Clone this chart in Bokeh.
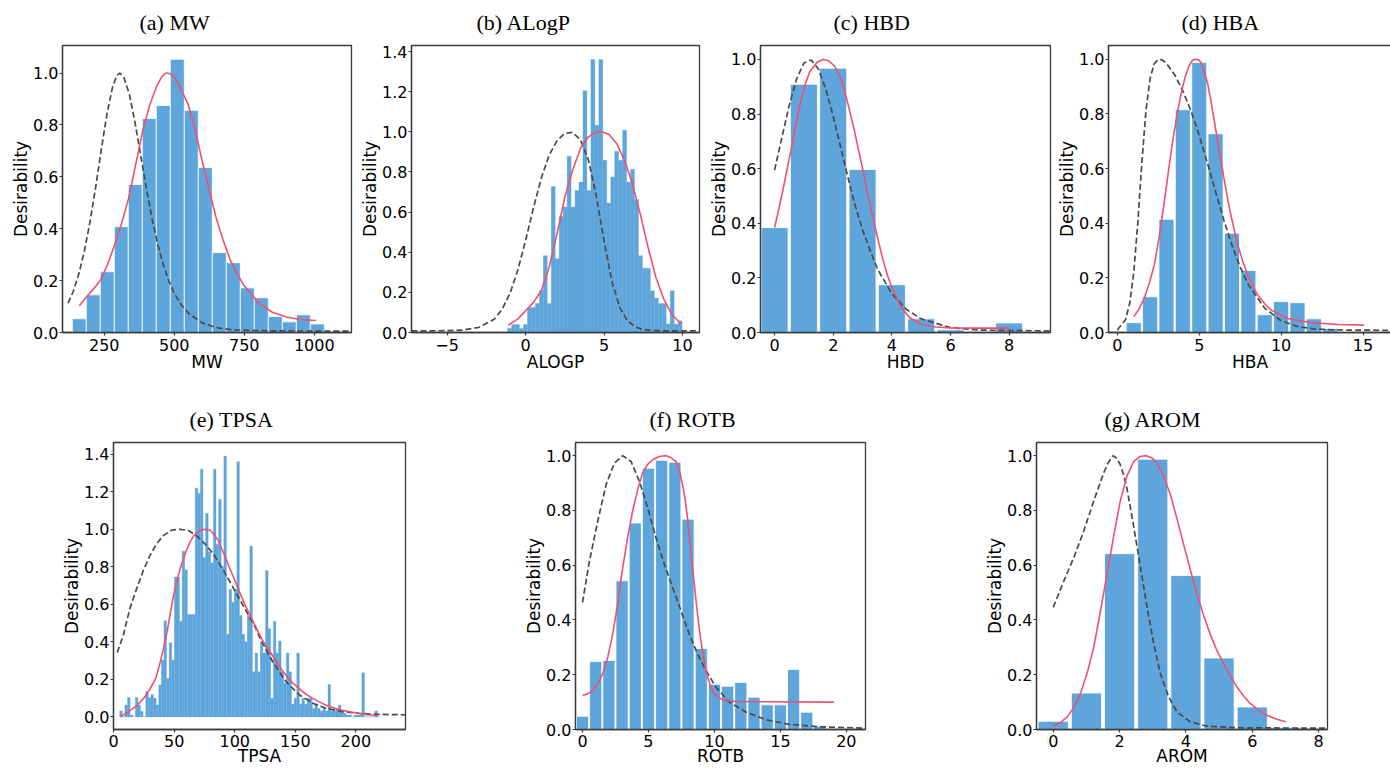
import numpy as np
from bokeh.plotting import figure
from bokeh.layouts import column, row
from bokeh.models import Range1d, FixedTicker, PrintfTickFormatter, Spacer
from bokeh.embed import file_html
from bokeh.resources import INLINE

BAR = "#5DA5DA"
RED = "#F0506E"
DASH = "#4A4A4A"
SPINE = "#3A3A3A"

# ---------------- (a) MW ----------------
mw_bin_start, mw_bin_width = 136, 50
mw_heights = [0.053, 0.145, 0.234, 0.408, 0.570, 0.825, 0.875, 1.053, 0.856, 0.636,
              0.308, 0.269, 0.172, 0.134, 0.062, 0.041, 0.068, 0.033]
mw_red_x = [161, 187, 212, 237, 262, 287, 312, 337, 362, 387, 412, 437, 455, 470, 485, 500, 520, 550,
            575, 600, 625, 650, 675, 700, 725, 750, 800, 850, 900, 950, 1006]
mw_red_y = [0.103, 0.138, 0.168, 0.202, 0.262, 0.337, 0.42, 0.517, 0.645, 0.775, 0.875, 0.948, 0.985,
            1.0, 0.997, 0.985, 0.948, 0.878, 0.78, 0.66, 0.55, 0.44, 0.355, 0.28, 0.225, 0.18, 0.115,
            0.078, 0.06, 0.05, 0.046]
mw_dash_x = [121, 140, 160, 180, 200, 220, 240, 260, 280, 295, 305, 320, 340, 360, 380, 400, 420, 440,
             460, 480, 500, 525, 550, 600, 650, 700, 800, 900, 1133]
mw_dash_y = [0.113, 0.160, 0.228, 0.318, 0.431, 0.564, 0.708, 0.844, 0.947, 0.990, 1.0, 0.984, 0.917,
             0.809, 0.684, 0.559, 0.443, 0.345, 0.265, 0.201, 0.151, 0.107, 0.075, 0.037, 0.019, 0.011,
             0.007, 0.006, 0.005]

# ---------------- (b) ALogP ----------------
alogp_bin_start, alogp_bin_width = -1.146, 0.2527
alogp_heights = [0.02, 0.04, 0.04, 0.02, 0.04, 0.125, 0.125, 0.145, 0.21, 0.383,
                 0.145, 0.728, 0.367, 0.578, 0.625, 0.878, 0.625, 0.708, 0.75, 1.205,
                 0.708, 1.36, 1.033, 1.36, 0.858, 0.645, 0.775, 0.903, 0.858, 1.008,
                 0.75, 0.813, 0.663, 0.383, 0.32, 0.32, 0.208, 0.172, 0.145, 0.145,
                 0.042, 0.208, 0.042, 0.058]
alogp_red_x = [-1.1, -0.5, 0, 0.5, 1.0, 1.5, 2.0, 2.5, 3.0, 3.5, 4.0, 4.4, 4.85, 5.3, 5.8, 6.3, 6.8,
               7.3, 7.8, 8.3, 8.8, 9.3, 9.9]
alogp_red_y = [0.037, 0.067, 0.108, 0.15, 0.208, 0.325, 0.49, 0.675, 0.81, 0.917, 0.975, 0.995, 1.0,
               0.988, 0.942, 0.858, 0.742, 0.592, 0.425, 0.275, 0.167, 0.092, 0.042]
alogp_dash_x = [-7.27, -5, -4, -3, -2, -1.5, -1, -0.5, 0, 0.5, 1, 1.5, 2, 2.5, 3, 3.5, 4, 4.5, 5, 5.5,
                6, 6.5, 7, 7.5, 8, 9, 11.08]
alogp_dash_y = [0.008, 0.009, 0.012, 0.025, 0.066, 0.115, 0.194, 0.310, 0.459, 0.621, 0.769, 0.884,
                0.955, 0.993, 0.997, 0.959, 0.860, 0.682, 0.456, 0.254, 0.124, 0.058, 0.027, 0.015,
                0.010, 0.008, 0.008]

# ---------------- (c) HBD ----------------
hbd_vals = [0, 1, 2, 3, 4, 5, 6, 7, 8]
hbd_heights = [0.384, 0.909, 0.968, 0.597, 0.175, 0.050, 0.010, 0.005, 0.035]
hbd_red_x = [0, 0.15, 0.3, 0.45, 0.6, 0.75, 0.9, 1.05, 1.2, 1.45, 1.65, 1.85, 2.05, 2.2, 2.35, 2.52,
             2.7, 2.87, 3.05, 3.22, 3.4, 3.55, 3.7, 3.85, 4.0, 4.3, 4.6, 5.0, 5.5, 6.0, 7.0, 8.0]
hbd_red_y = [0.384, 0.455, 0.53, 0.61, 0.69, 0.775, 0.85, 0.91, 0.955, 0.99, 1.0, 0.995, 0.975, 0.945,
             0.90, 0.83, 0.75, 0.665, 0.575, 0.485, 0.40, 0.33, 0.265, 0.21, 0.165, 0.095, 0.055,
             0.03, 0.02, 0.017, 0.016, 0.016]
hbd_dash_x = [0, 0.25, 0.5, 0.75, 1.0, 1.25, 1.5, 1.75, 2.0, 2.25, 2.5, 2.75, 3.0, 3.5, 4.0, 4.5, 5.0,
              6.0, 7.0, 8.0, 9.41]
hbd_dash_y = [0.595, 0.714, 0.832, 0.928, 0.987, 0.998, 0.964, 0.890, 0.791, 0.68, 0.569, 0.465, 0.375,
              0.234, 0.142, 0.084, 0.05, 0.018, 0.009, 0.007, 0.006]

# ---------------- (d) HBA ----------------
hba_vals = [1, 2, 3, 4, 5, 6, 7, 8, 9, 10, 11, 12, 13, 14]
hba_heights = [0.036, 0.131, 0.414, 0.815, 0.988, 0.727, 0.363, 0.227, 0.065, 0.113, 0.109, 0.050,
               0.015, 0.004]
hba_red_x = [1.0, 1.32, 1.64, 1.95, 2.26, 2.57, 2.87, 3.12, 3.38, 3.64, 3.89, 4.14, 4.39, 4.58, 4.76,
             4.93, 5.1, 5.3, 5.52, 5.72, 5.92, 6.12, 6.33, 6.58, 6.84, 7.1, 7.35, 7.65, 7.96, 8.27,
             8.57, 9.0, 9.39, 10.4, 11.83, 13.46, 15.05]
hba_red_y = [0.058, 0.085, 0.125, 0.18, 0.248, 0.355, 0.48, 0.59, 0.70, 0.795, 0.873, 0.935, 0.977,
             0.995, 1.0, 0.998, 0.989, 0.955, 0.909, 0.845, 0.775, 0.70, 0.627, 0.54, 0.456, 0.385,
             0.321, 0.262, 0.211, 0.17, 0.137, 0.105, 0.082, 0.051, 0.036, 0.029, 0.027]
hba_dash_x = [0, 0.5, 0.75, 1.0, 1.25, 1.5, 1.75, 2.0, 2.25, 2.5, 2.75, 3.0, 3.5, 4.0, 4.5, 5.0, 5.5,
              6.0, 6.5, 7.0, 7.5, 8.0, 9.0, 10.0, 11.0, 12.0, 13.0, 14.0, 16.74]
hba_dash_y = [0.009, 0.047, 0.105, 0.218, 0.402, 0.624, 0.814, 0.929, 0.983, 0.999, 0.997, 0.984,
              0.943, 0.884, 0.810, 0.721, 0.620, 0.515, 0.412, 0.319, 0.239, 0.175, 0.089, 0.043,
              0.022, 0.013, 0.010, 0.009, 0.008]

# ---------------- (e) TPSA ----------------
tpsa_bin_start, tpsa_bin_width = 5.0, 2.15
tpsa_heights = [0.032, 0.0, 0.064, 0.103, 0.01, 0.0, 0.103, 0.064, 0.03, 0.0,
                0.135, 0.103, 0.12, 0.10, 0.064, 0.17, 0.303, 0.512, 0.205, 0.395,
                0.303, 0.745, 0.745, 0.51, 0.883, 0.784, 0.545, 0.545, 0.545, 1.22,
                1.19, 1.32, 0.85, 1.085, 0.88, 0.82, 1.32, 0.92, 1.16, 0.80,
                1.39, 0.44, 0.68, 0.61, 0.68, 1.36, 0.54, 0.44, 0.40, 0.54,
                0.91, 0.24, 0.34, 0.24, 0.40, 0.34, 0.78, 0.47, 0.10, 0.51,
                0.34, 0.405, 0.24, 0.18, 0.34, 0.24, 0.067, 0.10, 0.34, 0.067,
                0.10, 0.067, 0.10, 0.10, 0.045, 0.067, 0.045, 0.032, 0.045, 0.032,
                0.173, 0.032, 0.032, 0.045, 0.064, 0.032, 0.02, 0.01, 0.01, 0.0,
                0.01, 0.01, 0.01, 0.235, 0.0, 0.0, 0.0, 0.0, 0.032, 0.0]
tpsa_red_x = [5.5, 10, 15, 20, 25, 30, 35, 38, 41, 44, 46.5, 49, 52, 55, 57.5, 60, 63, 66, 70, 73.5,
              77, 80, 82, 86, 89, 92.5, 96, 100, 104, 108, 112, 116, 120, 125, 131, 136, 142, 147,
              153, 158, 164, 170, 175, 182, 189, 196, 203, 210, 218]
tpsa_red_y = [0.0, 0.018, 0.04, 0.066, 0.10, 0.148, 0.21, 0.28, 0.36, 0.45, 0.54, 0.63, 0.72, 0.79,
              0.84, 0.885, 0.93, 0.963, 0.988, 0.998, 1.0, 0.993, 0.978, 0.945, 0.9, 0.848, 0.79, 0.728,
              0.665, 0.605, 0.55, 0.497, 0.445, 0.385, 0.33, 0.275, 0.225, 0.186, 0.152, 0.125, 0.10,
              0.08, 0.064, 0.048, 0.035, 0.026, 0.018, 0.012, 0.006]
tpsa_dash_x = [3.0, 8.0, 13.4, 19, 24.5, 30, 35.5, 41, 47.9, 54.8, 61.7, 68.5, 75.4, 82.3, 89.2, 96.1,
               103, 109.9, 116.8, 120.5, 131.3, 142.3, 153.4, 164.4, 175.4, 189.2, 203, 216.7, 241]
tpsa_dash_y = [0.343, 0.435, 0.577, 0.683, 0.78, 0.86, 0.922, 0.966, 0.995, 1.0, 0.993, 0.966, 0.922,
               0.869, 0.798, 0.719, 0.639, 0.559, 0.48, 0.425, 0.294, 0.188, 0.117, 0.073, 0.046,
               0.028, 0.019, 0.014, 0.011]

# ---------------- (f) ROTB ----------------
rotb_vals = list(range(0, 19))
rotb_heights = [0.048, 0.248, 0.252, 0.543, 0.754, 0.954, 0.983, 0.976, 0.768, 0.296, 0.165, 0.158,
                0.172, 0.118, 0.090, 0.090, 0.219, 0.063, 0.012]
rotb_red_x = [0, 0.39, 0.78, 1.16, 1.54, 1.92, 2.29, 2.67, 3.05, 3.42, 3.8, 4.18, 4.56, 4.94, 5.32, 5.8,
              6.33, 6.7, 7.08, 7.35, 7.58, 7.78, 7.96, 8.22, 8.47, 8.72, 8.97, 9.22, 9.48, 9.73, 9.98,
              10.3, 10.61, 11.2, 11.87, 19.06]
rotb_red_y = [0.125, 0.13, 0.143, 0.168, 0.204, 0.265, 0.349, 0.46, 0.592, 0.70, 0.798, 0.875, 0.937,
              0.968, 0.985, 0.997, 1.0, 0.993, 0.979, 0.945, 0.895, 0.84, 0.773, 0.65, 0.531, 0.42,
              0.325, 0.25, 0.192, 0.155, 0.131, 0.117, 0.109, 0.104, 0.102, 0.10]
rotb_dash_x = [0, 0.53, 1.16, 1.79, 2.42, 3.05, 3.68, 4.31, 4.94, 5.57, 6.2, 6.83, 7.46, 8.09, 8.72,
               9.35, 10.11, 11.12, 12.38, 13.89, 15.66, 17.93, 21.45]
rotb_dash_y = [0.464, 0.616, 0.761, 0.895, 0.973, 1.0, 0.979, 0.907, 0.81, 0.70, 0.604, 0.519, 0.434,
               0.349, 0.276, 0.216, 0.155, 0.10, 0.064, 0.036, 0.019, 0.01, 0.005]

# ---------------- (g) AROM ----------------
arom_vals = [0, 1, 2, 3, 4, 5, 6, 7]
arom_heights = [0.030, 0.133, 0.642, 0.987, 0.562, 0.261, 0.082, 0.007]
arom_red_x = [0, 0.21, 0.42, 0.62, 0.82, 1.02, 1.22, 1.42, 1.62, 1.82, 2.02, 2.22, 2.43, 2.62, 2.8,
              2.97, 3.13, 3.33, 3.53, 3.73, 3.93, 4.13, 4.33, 4.53, 4.73, 4.93, 5.14, 5.34, 5.54, 5.74,
              5.94, 6.19, 6.44, 6.72, 7.01]
arom_red_y = [0.013, 0.025, 0.046, 0.08, 0.131, 0.205, 0.30, 0.43, 0.567, 0.705, 0.834, 0.925, 0.979,
              0.997, 1.0, 0.992, 0.973, 0.925, 0.858, 0.77, 0.676, 0.585, 0.495, 0.418, 0.349, 0.29,
              0.24, 0.195, 0.155, 0.122, 0.095, 0.07, 0.052, 0.038, 0.028]
arom_dash_x = [0, 0.32, 0.62, 0.92, 1.22, 1.52, 1.66, 1.8, 1.92, 2.02, 2.12, 2.22, 2.43, 2.63, 2.83,
               3.03, 3.23, 3.48, 3.73, 4.13, 4.63, 5.64, 8.27]
arom_dash_y = [0.446, 0.543, 0.628, 0.725, 0.834, 0.937, 0.975, 1.0, 0.99, 0.967, 0.93, 0.882, 0.737,
               0.592, 0.446, 0.313, 0.204, 0.119, 0.064, 0.028, 0.012, 0.006, 0.005]

Y_TICKS_10 = [0.0, 0.2, 0.4, 0.6, 0.8, 1.0]
Y_TICKS_14 = [0.0, 0.2, 0.4, 0.6, 0.8, 1.0, 1.2, 1.4]


def make_fig(title, title_offset, xlabel, xr, yr, fw, fh, bl, br, bb, xticks, yticks,
             overrides=None, xlab_standoff=-2, xtick_standoff=3):
    p = figure(frame_width=fw, frame_height=fh, x_range=Range1d(*xr), y_range=Range1d(*yr),
               output_backend="svg", toolbar_location=None,
               min_border_left=bl, min_border_right=br, min_border_top=0, min_border_bottom=bb)
    p.title.text = title
    p.title.align = "left"
    p.title.offset = title_offset
    p.title.vertical_align = "top"
    p.title.text_font = "Liberation Serif"
    p.title.text_font_size = "22px"
    p.title.text_font_style = "normal"
    p.title.text_color = "black"
    p.title.standoff = 18
    p.xgrid.visible = False
    p.ygrid.visible = False
    p.background_fill_color = "white"
    p.border_fill_color = "white"
    p.outline_line_color = SPINE
    p.outline_line_width = 1.3
    for ax in (p.xaxis[0], p.yaxis[0]):
        ax.axis_line_color = SPINE
        ax.axis_line_width = 1.3
        ax.major_tick_line_color = SPINE
        ax.major_tick_line_width = 1.2
        ax.major_tick_in = 0
        ax.major_tick_out = 3
        ax.minor_tick_line_color = None
        ax.major_label_text_font = "DejaVu Sans"
        ax.major_label_text_font_size = "16px"
        ax.major_label_text_color = "black"
        ax.axis_label_text_font = "DejaVu Sans"
        ax.axis_label_text_font_size = "17px"
        ax.axis_label_text_font_style = "normal"
        ax.axis_label_text_color = "black"
    p.xaxis.axis_label = xlabel
    p.yaxis.axis_label = "Desirability"
    p.xaxis.ticker = FixedTicker(ticks=xticks)
    p.yaxis.ticker = FixedTicker(ticks=yticks)
    p.yaxis.formatter = PrintfTickFormatter(format="%.1f")
    p.xaxis.major_label_standoff = xtick_standoff
    p.yaxis.major_label_standoff = 1
    p.xaxis.axis_label_standoff = xlab_standoff
    p.yaxis.axis_label_standoff = -1
    if overrides:
        p.xaxis.major_label_overrides = overrides
    return p


def hist(p, start, width, heights, edge=True):
    n = len(heights)
    edges = start + width * np.arange(n + 1)
    if edge:
        p.quad(left=edges[:-1], right=edges[1:], bottom=0, top=heights,
               fill_color=BAR, line_color="white", line_width=0.8)
    else:
        p.quad(left=edges[:-1], right=edges[1:], bottom=0, top=heights,
               fill_color=BAR, line_color=BAR, line_width=0.3)


def bars(p, vals, heights, w=0.92):
    p.vbar(x=vals, top=heights, width=w, bottom=0, fill_color=BAR, line_color="white", line_width=0.8)


def curves(p, dx, dy, rx, ry):
    p.line(dx, dy, line_color=DASH, line_width=1.7, line_dash="6 3")
    p.line(rx, ry, line_color=RED, line_width=1.6)


# Row 1
pa = make_fig("(a) MW", 77, "MW", (101, 1133), (0, 1.106), 289, 287, 53, 6, 65,
              [250, 500, 750, 1000], Y_TICKS_10)
hist(pa, mw_bin_start, mw_bin_width, mw_heights)
curves(pa, mw_dash_x, mw_dash_y, mw_red_x, mw_red_y)

pb = make_fig("(b) ALogP", 65, "ALOGP", (-7.27, 11.08), (0, 1.43), 288, 287, 53, 7, 65,
              [-5, 0, 5, 10], Y_TICKS_14, overrides={-5: "\u22125"})
hist(pb, alogp_bin_start, alogp_bin_width, alogp_heights, edge=False)
curves(pb, alogp_dash_x, alogp_dash_y, alogp_red_x, alogp_red_y)

pc = make_fig("(c) HBD", 73, "HBD", (-0.48, 9.41), (0, 1.051), 290, 287, 53, 4, 65,
              [0, 2, 4, 6, 8], Y_TICKS_10)
bars(pc, hbd_vals, hbd_heights)
curves(pc, hbd_dash_x, hbd_dash_y, hbd_red_x, hbd_red_y)

pd_ = make_fig("(d) HBA", 73, "HBA", (-0.54, 16.74), (0, 1.05), 283, 287, 53, 2, 65,
               [0, 5, 10, 15], Y_TICKS_10)
bars(pd_, hba_vals, hba_heights)
curves(pd_, hba_dash_x, hba_dash_y, hba_red_x, hba_red_y)

# Row 2
pe = make_fig("(e) TPSA", 76, "TPSA", (-0.1, 241), (-0.067, 1.462), 292, 287, 53, 116, 40,
              [0, 50, 100, 150, 200], Y_TICKS_14, xlab_standoff=-4, xtick_standoff=2)
hist(pe, tpsa_bin_start, tpsa_bin_width, tpsa_heights, edge=False)
curves(pe, tpsa_dash_x, tpsa_dash_y, tpsa_red_x, tpsa_red_y)

pf = make_fig("(f) ROTB", 74, "ROTB", (-0.53, 21.45), (0, 1.048), 290, 287, 53, 117, 40,
              [0, 5, 10, 15, 20], Y_TICKS_10, xlab_standoff=-4, xtick_standoff=2)
bars(pf, rotb_vals, rotb_heights)
curves(pf, rotb_dash_x, rotb_dash_y, rotb_red_x, rotb_red_y)

pg = make_fig("(g) AROM", 68, "AROM", (-0.506, 8.27), (0, 1.048), 291, 287, 53, 10, 40,
              [0, 2, 4, 6, 8], Y_TICKS_10, xlab_standoff=-4, xtick_standoff=2)
bars(pg, arom_vals, arom_heights, w=0.91)
curves(pg, arom_dash_x, arom_dash_y, arom_red_x, arom_red_y)

layout = column(
    row(Spacer(width=8, height=10), pa, pb, pc, pd_, spacing=0),
    row(Spacer(width=59, height=10), pe, pf, pg, spacing=0),
    spacing=0,
)

open("out.html", "w").write(file_html(layout, INLINE, "Desirability"))
